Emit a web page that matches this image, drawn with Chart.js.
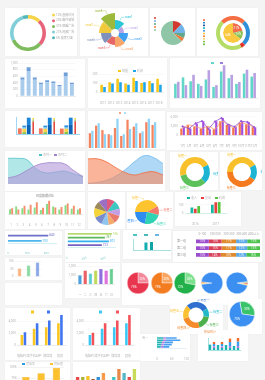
<!DOCTYPE html>
<html>
<head>
<meta charset="utf-8">
<title>图表集合</title>
<script src="https://cdn.jsdelivr.net/npm/chart.js@4.4.1/dist/chart.umd.min.js"></script>
<style>
  html, body { margin: 0; padding: 0; }
  body { position: relative; width: 265px; height: 380px; overflow: hidden; background: #f4f4f4; }
  .card { position: absolute; background: #fff; box-shadow: 0 0 1px rgba(0,0,0,0.06); }
  canvas { position: absolute; }
</style>
</head>
<body>
<script>
// ---------- data ----------
// row 1
const usageLabels = ['直接访问', '邮件营销', '联盟广告', '视频广告', '搜索引擎'];
const usageValues = [12, 25, 31, 27, 5];
const roseLabels = ['rose1', 'rose2', 'rose3', 'rose4', 'rose5', 'rose6', 'rose7', 'rose8'];
const roseValues = [13, 9, 13, 14, 12, 14, 16, 20];
const sourceLabels = ['直接访问', '邮件营销', '联盟广告', '视频广告', '搜索引擎'];
const sourceValues = [12, 13, 7, 5, 63];
const nestOuterLabels = ['百度', '谷歌', '必应', '其他'];
const nestOuterValues = [25, 25, 4, 46];
const nestInnerLabels = ['直达', '营销广告', '搜索引擎'];
const nestInnerValues = [21, 15, 64];
const nestLegendLabels = ['直达', '营销广告', '搜索引擎', '邮件营销', '联盟广告', '视频广告', '百度', '谷歌', '必应', '其他'];

// row 2
const trafficLabels = ['1', '2', '3', '4', '5', '6', '7', '8', '9'];
const trafficBase = [490, 760, 490, 360, 420, 385, 290, 605, 350];
const trafficTop = [70, 110, 70, 40, 60, 55, 40, 110, 50];
const yearLabels = ['2011', '2012', '2013', '2014', '2015', '2016', '2017', '2018'];
const yellowSeries = [82, 110, 149, 97, 159, 103, 123, 149];
const blueSeries = [59, 97, 110, 82, 123, 110, 100, 82];
const month11Labels = ['1月', '2月', '3月', '4月', '5月', '6月', '7月', '8月', '9月', '10月', '11月'];
const mintSeries = [55, 80, 65, 55, 72, 43, 103, 77, 55, 95, 83];
const lavenderSeries = [63, 50, 90, 47, 108, 50, 127, 90, 62, 110, 97];

// row 3
const stackCats = ['一', '二', '三'];
const stackOrange = [25, 25, 24];
const stackGreen = [8, 8, 9];
const stackYellow = [15, 15, 14];
const stackSky = [8, 8, 8];
const stackBlue = [6, 6, 7];
const stackNavy = [40, 40, 40];
const stackAzure = [32, 32, 32];
const stackRed = [55, 55, 56];
const stackLime = [9, 9, 8];
const stackGold = [7, 7, 7];
const pairLabels = ['1', '2', '3', '4', '5', '6', '7', '8', '9', '10', '11'];
const salmonSeries = [43, 65, 52, 40, 58, 35, 82, 62, 43, 75, 67];
const skySeries = [50, 72, 40, 37, 85, 40, 55, 72, 48, 85, 75];
const comboLabels = ['1月', '2月', '3月', '4月', '5月', '6月', '7月', '8月', '9月', '10月', '11月', '12月'];
const comboOrangeBars = [2240, 3470, 2750, 2240, 2890, 2020, 4550, 3320, 2390, 4050, 3610, 2600];
const comboPurpleBars = [2750, 2240, 3830, 4550, 2020, 4550, 5640, 3610, 2750, 4550, 4340, 2600];
const comboOrangeLine = [2400, 3300, 2800, 2300, 2900, 2100, 4500, 3400, 2500, 4000, 3500, 2700];
const comboPurpleLine = [2900, 2200, 3900, 4600, 2100, 4500, 5600, 3500, 2800, 4600, 4300, 2700];

// row 4
const waveLabels = ['1', '2', '3', '4', '5', '6', '7', '8', '9'];
const tealWave = [76, 76, 72, 45, 33, 35, 38, 30, 22];
const purpleWave = [18, 25, 40, 55, 62, 63, 60, 40, 22];
const orangeWave = [78, 78, 68, 50, 35, 28, 35, 38, 28];
const skyWave = [2, 5, 12, 25, 45, 70, 88, 82, 63];
const ringALabels = ['标签一', '标签二', '标签三'];
const ringAValues = [46, 21, 33];
const ringBLabels = ['标签一', '标签二', '标签三'];
const ringBValues = [42, 17, 41];

// row 5
const duoLabels = ['1', '2', '3', '4', '5', '6', '7', '8', '9', '10', '11', '12'];
const greenBars = [30, 45, 35, 28, 40, 25, 60, 45, 28, 52, 32, 28];
const orangeBars = [35, 28, 50, 55, 70, 38, 78, 40, 42, 62, 50, 35];
const tenLabels = ['A', 'B', 'C', 'D', 'E', 'F', 'G', 'H', 'I', 'J'];
const tenValues = [10, 11, 9, 10, 8, 9, 11, 12, 9, 11];
const quadLabels = ['标签一', '标签二', '标签三', '标签四'];
const quadValues = [42, 12, 24, 22];
const triLabels = ['2016', '2017'];
const triTeal = [106, 153];
const triRed = [82, 196];
const triGreen = [130, 198];

// row 6
const hbarLabels = ['A', 'B'];
const hbarValues = [840, 700];
const hbar4Labels = ['A', 'B', 'C', 'D'];
const hbar4Values = [936, 787, 872, 723];
const tealPairLabels = ['2017'];
const tealPairA = [68];
const tealPairB = [73];
const tealPairC = [0];
const rowLabels = ['第一组', '第二组', '第三组'];
const segLabels = ['0-100', '100-200', '200-300', '300-400', '400以上'];
const segValues = [[15, 15, 17, 13, 15], [15, 15, 17, 13, 15], [15, 14, 18, 12, 16]];

// row 7
const triBarLabels = ['A', 'B', 'C'];
const triBarValues = [53, 73, 93];
const rainbowLabels = ['一', '二', '三', '四', '五', '六', '日'];
const rainbowValues = [1000, 1530, 1210, 1530, 1710, 1530, 1710];
const smallPieLabels = ['已完成', '未完成'];
const smallPieA = [25, 75];
const smallPieB = [25, 75];
const smallPieC = [28, 72];
const slimPieLabels = ['一', '二', '其他'];
const slimPieD = [2, 2, 96];
const slimPieE = [2, 2, 2, 94];

// row 8
const deviceLabels = ['电脑PC端', '手机APP', '微信端', '其他'];
const deviceYellow = [1730, 2730, 3000, 3640];
const deviceBlue = [2180, 3640, 4090, 5000];
const deviceCyan = [1730, 2730, 3000, 3640];
const deviceRed = [2090, 3640, 4090, 5000];
const ringCLabels = ['标签一', '标签二', '标签三', '标签四', '标签五'];
const ringCValues = [29, 11, 18, 25, 17];
const pieBLabels = ['标签一', '标签二'];
const pieBValues = [30, 70];
const weekLabels = ['周一', '周二', '周三', '周四', '周五'];
const weekTeal = [25, 25, 20, 17, 15];
const weekPurple = [10, 12, 10, 10, 10];
const weekBlue = [45, 58, 35, 33, 25];
const colLabels = ['1', '2', '3', '4', '5', '6', '7', '8'];
const colTeal = [27, 10, 25, 10, 25, 10, 20, 10];
const colPurple = [0, 8, 0, 8, 0, 10, 0, 10];
const colBlue = [0, 12, 0, 12, 0, 20, 0, 22];
const colOrange = [0, 10, 0, 10, 0, 17, 0, 18];

// row 9
const rateLabels = ['A', 'B', 'C'];
const rateValues = [77, 86, 98];
const multiLabels = ['1', '2', '3', '4', '5', '6', '7', '8', '9', '10', '11', '12'];
const multiValues = [21, 21, 22, 19, 21, 25, 14, 21, 29, 25, 21, 29];

// ---------- chart setup ----------
Chart.defaults.animation = false;
Chart.defaults.responsive = false;
Chart.defaults.maintainAspectRatio = false;
Chart.defaults.devicePixelRatio = 1;
Chart.defaults.font.family = 'Roboto, "Noto Sans CJK SC", sans-serif';
Chart.defaults.font.size = 3;
Chart.defaults.color = '#b5b5b5';
Chart.defaults.plugins.legend.display = false;
Chart.defaults.plugins.tooltip.enabled = false;
Chart.defaults.elements.point.radius = 0;
Chart.defaults.elements.arc.borderWidth = 0;

const FONT = 'px Roboto, "Noto Sans CJK SC", sans-serif';

// small legend of boxes / dots with text, drawn in the canvas
const boxLegend = {
    id: 'boxLegend',
    afterDraw(chart, args, o) {
        if (!o.items) return;
        const ctx = chart.ctx;
        const bw = o.bw || 3, bh = o.bh || 2;
        ctx.save();
        ctx.font = (o.size || 3) + FONT;
        ctx.textBaseline = 'middle';
        ctx.textAlign = 'left';
        o.items.forEach((it, i) => {
            const x = o.x + (o.dx || 0) * i, y = o.y + (o.dy || 0) * i;
            let tx = x;
            if (it[1]) {
                ctx.fillStyle = it[1];
                if (o.round) {
                    ctx.beginPath();
                    ctx.arc(x + bw / 2, y, bw / 2, 0, Math.PI * 2);
                    ctx.fill();
                } else {
                    ctx.fillRect(x, y - bh / 2, bw, bh);
                }
                tx = x + bw + 1;
            }
            ctx.fillStyle = o.color || '#b5b5b5';
            ctx.fillText(it[0], tx, y);
        });
        ctx.restore();
    }
};

// labels outside the slices with a leader line
const outLabels = {
    id: 'outLabels',
    afterDatasetsDraw(chart, args, o) {
        if (!o.show) return;
        const ctx = chart.ctx;
        const ds = chart.data.datasets[0];
        ctx.save();
        ctx.font = '3' + FONT;
        ctx.textBaseline = 'middle';
        ctx.lineWidth = 0.4;
        chart.getDatasetMeta(0).data.forEach((arc, i) => {
            const p = arc.getProps(['x', 'y', 'startAngle', 'endAngle', 'outerRadius']);
            const a = (p.startAngle + p.endAngle) / 2;
            const c = Math.cos(a), s = Math.sin(a);
            const col = ds.backgroundColor[i];
            const r2 = p.outerRadius + (o.len || 4);
            const x2 = p.x + c * r2, y2 = p.y + s * r2;
            const right = c >= 0;
            const x3 = x2 + (right ? 1 : -1) * (o.hook || 0);
            if (o.line !== false) {
                ctx.strokeStyle = col;
                ctx.beginPath();
                ctx.moveTo(p.x + c * (p.outerRadius + 0.5), p.y + s * (p.outerRadius + 0.5));
                ctx.lineTo(x2, y2);
                ctx.lineTo(x3, y2);
                ctx.stroke();
            }
            ctx.fillStyle = col;
            ctx.textAlign = right ? 'left' : 'right';
            ctx.fillText(chart.data.labels[i], x3 + (right ? 0.5 : -0.5), y2);
        });
        ctx.restore();
    }
};

// white percentage text inside slices
const inText = {
    id: 'inText',
    afterDatasetsDraw(chart, args, o) {
        if (!o.show) return;
        const di = o.dataset || 0;
        const ds = chart.data.datasets[di];
        const ctx = chart.ctx;
        const total = ds.data.reduce((a, b) => a + b, 0);
        ctx.save();
        ctx.font = '3' + FONT;
        ctx.fillStyle = '#fff';
        ctx.textAlign = 'center';
        ctx.textBaseline = 'middle';
        chart.getDatasetMeta(di).data.forEach((arc, i) => {
            if (ds.data[i] / total < 0.08) return;
            const p = arc.getProps(['x', 'y', 'startAngle', 'endAngle', 'outerRadius']);
            const a = (p.startAngle + p.endAngle) / 2;
            const r = p.outerRadius * 0.55;
            ctx.fillText(Math.round(ds.data[i] / total * 100) + '%', p.x + Math.cos(a) * r, p.y + Math.sin(a) * r);
        });
        ctx.restore();
    }
};

// values on bars: at the end of horizontal bars, or inside stacked segments
const barText = {
    id: 'barText',
    afterDatasetsDraw(chart, args, o) {
        if (!o.mode) return;
        const ctx = chart.ctx;
        ctx.save();
        ctx.font = '3' + FONT;
        ctx.textBaseline = 'middle';
        chart.data.datasets.forEach((ds, di) => {
            chart.getDatasetMeta(di).data.forEach((bar, i) => {
                const v = ds.data[i];
                if (o.mode === 'end') {
                    ctx.fillStyle = Array.isArray(ds.backgroundColor) ? ds.backgroundColor[i] : ds.backgroundColor;
                    ctx.textAlign = 'left';
                    ctx.fillText(String(v), bar.x + 1, bar.y);
                } else {
                    const cx = (bar.x + bar.base) / 2;
                    ctx.fillStyle = 'rgba(255,255,255,0.85)';
                    ctx.textAlign = 'center';
                    ctx.fillText(v + '%', cx, bar.y);
                    if (i === 0 && o.headY) {
                        ctx.fillStyle = '#aaa';
                        ctx.fillText(ds.label, cx, o.headY);
                    }
                }
            });
        });
        ctx.restore();
    }
};

// white hole in the middle of the rose chart
const holePlugin = {
    id: 'hole',
    afterDatasetsDraw(chart, args, o) {
        if (!o.r) return;
        const s = chart.scales.r;
        const ctx = chart.ctx;
        ctx.save();
        ctx.fillStyle = '#fff';
        ctx.beginPath();
        ctx.arc(s.xCenter, s.yCenter, o.r, 0, Math.PI * 2);
        ctx.fill();
        ctx.restore();
    }
};

Chart.register(boxLegend, outLabels, inText, barText, holePlugin);

function card(x, y, w, h) {
    const el = document.createElement('div');
    el.className = 'card';
    el.style.left = x + 'px';
    el.style.top = y + 'px';
    el.style.width = w + 'px';
    el.style.height = h + 'px';
    document.body.appendChild(el);
}

function chartAt(x, y, w, h, config) {
    const cv = document.createElement('canvas');
    cv.width = w;
    cv.height = h;
    cv.style.left = x + 'px';
    cv.style.top = y + 'px';
    cv.style.width = w + 'px';
    cv.style.height = h + 'px';
    document.body.appendChild(cv);
    return new Chart(cv, config);
}

function panel(x, y, w, h, config) {
    card(x, y, w, h);
    return chartAt(x, y, w, h, config);
}

// padding that puts a pie of radius r at (cx, cy) inside a w x h canvas
function ring(w, h, cx, cy, r) {
    return { left: cx - r, right: w - cx - r, top: cy - r, bottom: h - cy - r };
}

function xCat(extra) {
    return Object.assign({
        grid: { display: false },
        border: { color: '#dddddd', width: 0.5 },
        ticks: { padding: 1, maxRotation: 0, autoSkip: false }
    }, extra || {});
}

function yVal(min, max, step, extra) {
    return Object.assign({
        min: min, max: max,
        grid: { color: '#f1f1f1', lineWidth: 0.5, drawTicks: false },
        border: { display: false },
        ticks: { stepSize: step, padding: 1.5 }
    }, extra || {});
}

// ---------- row 1 ----------
const C_USAGE = ['#f6d44a', '#e6637a', '#7dbb5d', '#80cfd8', '#55b6b9'];
panel(5, 8, 72, 48, {
    type: 'doughnut',
    data: { labels: usageLabels, datasets: [{ data: usageValues, backgroundColor: C_USAGE }] },
    options: {
        cutout: '80%',
        layout: { padding: ring(72, 48, 23, 25, 18) },
        plugins: {
            boxLegend: {
                x: 47, y: 7, dy: 5.7, round: true, color: '#aaa',
                items: usageLabels.map((l, i) => [usageValues[i] + '% ' + l, C_USAGE[i]])
            }
        }
    }
});

const C_ROSE = ['#2cc6d6', '#b9a2e6', '#3f9ff0', '#f8a66a', '#e66767', '#7f90bb', '#f0c93c', '#9db93c'];
panel(80, 8, 68, 48, {
    type: 'polarArea',
    data: { labels: roseLabels, datasets: [{ data: roseValues, backgroundColor: C_ROSE }] },
    options: {
        layout: { padding: ring(68, 48, 35, 25, 20) },
        scales: { r: { display: false, min: 0, max: 20 } },
        plugins: { outLabels: { show: true, len: 4, hook: 3 }, hole: { r: 4 } }
    }
});

const C_SOURCE = ['#d23a2f', '#72b3ea', '#5fa88c', '#f07b3c', '#8fc6a7'];
panel(150, 8, 45, 48, {
    type: 'pie',
    data: { labels: sourceLabels, datasets: [{ data: sourceValues, backgroundColor: C_SOURCE }] },
    options: {
        layout: { padding: ring(45, 48, 23, 25, 12) },
        plugins: { boxLegend: { x: 4, y: 10, dy: 3, bw: 2, bh: 1.5, items: sourceLabels.map((l, i) => ['', C_SOURCE[i]]) } }
    }
});

const C_NEST_OUT = ['#f46d43', '#2f8fd8', '#e5332a', '#b6dc68'];
const C_NEST_IN = ['#f36c4c', '#8cc152', '#fbc93f'];
const C_NEST_LEGEND = ['#f46d43', '#2f8fd8', '#1c4fa0', '#18b7c6', '#3fa0e8', '#f6c343', '#f48a3c', '#f3d36b', '#8cc152', '#6fbf40'];
panel(197, 8, 61, 48, {
    type: 'doughnut',
    data: {
        labels: nestOuterLabels,
        datasets: [
            { data: nestOuterValues, backgroundColor: C_NEST_OUT, weight: 4, rotation: -45 },
            { data: [1], backgroundColor: ['#ffffff'], weight: 3 },
            { data: nestInnerValues, backgroundColor: C_NEST_IN, weight: 10 }
        ]
    },
    options: {
        cutout: 0,
        layout: { padding: ring(61, 48, 36, 25, 17) },
        plugins: {
            inText: { show: true, dataset: 2 },
            boxLegend: { x: 6, y: 12, dy: 2.7, bw: 2, bh: 1.6, items: nestLegendLabels.map((l, i) => ['', C_NEST_LEGEND[i]]) }
        }
    }
});

// ---------- row 2 ----------
panel(5, 59, 80, 49, {
    type: 'bar',
    data: {
        labels: trafficLabels,
        datasets: [
            { data: trafficBase, backgroundColor: '#a9cbec' },
            { data: trafficTop, backgroundColor: '#6f9fd6' }
        ]
    },
    options: {
        layout: { padding: { left: 4, right: 10, top: 4, bottom: 4 } },
        datasets: { bar: { barPercentage: 0.7, categoryPercentage: 0.9 } },
        scales: {
            x: xCat({ stacked: true, ticks: { display: false } }),
            y: yVal(0, 1000, 200, { stacked: true })
        }
    }
});

panel(88, 58, 79, 50, {
    type: 'bar',
    data: {
        labels: yearLabels,
        datasets: [
            { data: yellowSeries, backgroundColor: '#f8c81c' },
            { data: blueSeries, backgroundColor: '#1ea5ea' }
        ]
    },
    options: {
        layout: { padding: { left: 3, right: 4, top: 16, bottom: 2 } },
        datasets: { bar: { categoryPercentage: 0.72, barPercentage: 0.9 } },
        plugins: { boxLegend: { x: 30, y: 13, dx: 15, items: [['销量', '#f8c81c'], ['利润', '#1ea5ea']] } },
        scales: { x: xCat(), y: yVal(0, 200, 50) }
    }
});

panel(170, 58, 90, 50, {
    type: 'bar',
    data: {
        labels: month11Labels,
        datasets: [
            { data: mintSeries, backgroundColor: '#62d6c9' },
            { data: lavenderSeries, backgroundColor: '#b9a0e0' }
        ]
    },
    options: {
        layout: { padding: { left: 3, right: 3, top: 6, bottom: 2 } },
        datasets: { bar: { categoryPercentage: 0.75, barPercentage: 0.9 } },
        plugins: { boxLegend: { x: 41, y: 5, dx: 9, items: [['', '#62d6c9'], ['', '#9c7fd8']] } },
        scales: { x: xCat({ ticks: { display: false } }), y: { display: false, min: 0, max: 132 } }
    }
});

// ---------- row 3 ----------
panel(5, 111, 80, 36, {
    type: 'bar',
    data: {
        labels: stackCats,
        datasets: [
            { data: stackOrange, backgroundColor: '#f27a5c', stack: 'a' },
            { data: stackGreen, backgroundColor: '#8bc34a', stack: 'b' },
            { data: stackYellow, backgroundColor: '#f9d24a', stack: 'b' },
            { data: stackSky, backgroundColor: '#7ec8f0', stack: 'b' },
            { data: stackBlue, backgroundColor: '#2e8fe0', stack: 'b' },
            { data: stackNavy, backgroundColor: '#0d62b5', stack: 'c' },
            { data: stackAzure, backgroundColor: '#1d86d8', stack: 'c' },
            { data: stackRed, backgroundColor: '#e0473b', stack: 'd', barPercentage: 0.35 },
            { data: stackLime, backgroundColor: '#9ccc65', stack: 'd', barPercentage: 0.35 },
            { data: stackGold, backgroundColor: '#fdd835', stack: 'd', barPercentage: 0.35 }
        ]
    },
    options: {
        layout: { padding: { left: 3, right: 6, top: 6, bottom: 5 } },
        datasets: { bar: { categoryPercentage: 0.85, barPercentage: 0.85 } },
        scales: {
            x: { stacked: true, grid: { display: false }, ticks: { display: false }, border: { color: '#9fd6f2' } },
            y: { stacked: true, min: 0, max: 75, grid: { display: false }, ticks: { display: false }, border: { color: '#9fd6f2' } }
        }
    }
});

panel(88, 111, 77, 38, {
    type: 'bar',
    data: {
        labels: pairLabels,
        datasets: [
            { data: salmonSeries, backgroundColor: '#f4845f' },
            { data: skySeries, backgroundColor: '#8fd4f7' }
        ]
    },
    options: {
        layout: { padding: { left: 0, right: 8, top: 6, bottom: 1 } },
        datasets: { bar: { categoryPercentage: 0.8, barPercentage: 0.9 } },
        plugins: { boxLegend: { x: 31, y: 2, dx: 5, bw: 2, bh: 1.5, items: [['', '#f4845f'], ['', '#8fd4f7']] } },
        scales: { x: { display: false }, y: { display: false, min: 0, max: 90 } }
    }
});

panel(167, 112, 95, 38, {
    type: 'bar',
    data: {
        labels: comboLabels,
        datasets: [
            { type: 'line', data: comboPurpleLine, borderColor: '#9b4fd6', borderWidth: 0.8, pointRadius: 0.7, pointBackgroundColor: '#9b4fd6', tension: 0 },
            { type: 'line', data: comboOrangeLine, borderColor: '#f7a06a', borderWidth: 0.8, tension: 0.4 },
            { data: comboOrangeBars, backgroundColor: '#f5734b' },
            { data: comboPurpleBars, backgroundColor: '#a24fe0' }
        ]
    },
    options: {
        layout: { padding: { left: 2, right: 2, top: 3, bottom: 1 } },
        datasets: { bar: { categoryPercentage: 0.75, barPercentage: 0.9 } },
        scales: { x: xCat(), y: yVal(0, 6000, 1000) }
    }
});

// ---------- row 4 ----------
panel(5, 151, 80, 40, {
    type: 'line',
    data: {
        labels: waveLabels,
        datasets: [
            { data: purpleWave, borderColor: '#a083cc', backgroundColor: 'rgba(178,150,216,0.6)', fill: 'origin', borderWidth: 0.8, tension: 0.45 },
            { data: tealWave, borderColor: '#4cc3c9', backgroundColor: 'rgba(125,215,215,0.6)', fill: 'origin', borderWidth: 0.8, tension: 0.45 }
        ]
    },
    options: {
        layout: { padding: { left: 3, right: 2, top: 6, bottom: 7 } },
        plugins: { boxLegend: { x: 34, y: 4, dx: 15, items: [['系列一', '#4cc3c9'], ['系列二', '#a083cc']] } },
        scales: { x: { display: false }, y: { display: false, min: 0, max: 80 } }
    }
});

panel(88, 151, 77, 40, {
    type: 'line',
    data: {
        labels: waveLabels,
        datasets: [
            { data: orangeWave, borderColor: '#f06a3a', backgroundColor: 'rgba(246,140,100,0.65)', fill: 'origin', borderWidth: 0.8, tension: 0.45 },
            { data: skyWave, borderColor: '#6fb7ec', backgroundColor: 'rgba(140,200,242,0.7)', fill: 'origin', borderWidth: 0.8, tension: 0.45 }
        ]
    },
    options: {
        layout: { padding: { left: 0, right: 2, top: 4, bottom: 7 } },
        scales: { x: { display: false }, y: { display: false, min: 0, max: 90 } }
    }
});

const C_RING_A = ['#f8c12c', '#1db4d3', '#5cc15a'];
panel(170, 152, 48, 38, {
    type: 'doughnut',
    data: { labels: ringALabels, datasets: [{ data: ringAValues, backgroundColor: C_RING_A }] },
    options: {
        cutout: '60%', rotation: -105,
        layout: { padding: ring(48, 38, 25, 20, 15) },
        plugins: { outLabels: { show: true, len: 2, hook: 1, line: false } }
    }
});

const C_RING_B = ['#f8c12c', '#1db4d3', '#f47b20'];
panel(220, 152, 42, 38, {
    type: 'doughnut',
    data: { labels: ringBLabels, datasets: [{ data: ringBValues, backgroundColor: C_RING_B }] },
    options: {
        cutout: '60%', rotation: -90,
        layout: { padding: ring(42, 38, 22, 20, 15) },
        plugins: { outLabels: { show: true, len: 2, hook: 1, line: false } }
    }
});

// ---------- row 5 ----------
panel(5, 192, 80, 37, {
    type: 'bar',
    data: {
        labels: duoLabels,
        datasets: [
            { data: greenBars, backgroundColor: '#86dd84' },
            { data: orangeBars, backgroundColor: '#f68f6e' }
        ]
    },
    options: {
        layout: { padding: { left: 3, right: 3, top: 1, bottom: 1 } },
        datasets: { bar: { categoryPercentage: 0.7, barPercentage: 0.9 } },
        plugins: { title: { display: true, text: '月度数据对比', font: { size: 3 }, color: '#aaa', padding: { top: 1, bottom: 2 } } },
        scales: { x: xCat({ border: { color: '#cccccc', width: 0.5 } }), y: { display: false, min: 0, max: 85 } }
    }
});

const C_TEN = ['#e05a7a', '#3cc7c0', '#c3a0e6', '#e97a6e', '#f3a96a', '#8ec5ef', '#7a8ccc', '#f5d43a', '#9c8a5a', '#9b70c4'];
panel(88, 192, 37, 37, {
    type: 'pie',
    data: { labels: tenLabels, datasets: [{ data: tenValues, backgroundColor: C_TEN }] },
    options: { layout: { padding: ring(37, 37, 19, 20, 13) } }
});

const C_QUAD = ['#fdc42f', '#f4776b', '#2fd3b3', '#2e8ef0'];
panel(127, 192, 46, 37, {
    type: 'pie',
    data: { labels: quadLabels, datasets: [{ data: quadValues, backgroundColor: C_QUAD }] },
    options: {
        rotation: -90,
        layout: { padding: ring(46, 37, 20, 20, 12) },
        plugins: { outLabels: { show: true, len: 2, hook: 2 } }
    }
});

panel(175, 192, 66, 34, {
    type: 'bar',
    data: {
        labels: triLabels,
        datasets: [
            { data: triTeal, backgroundColor: '#19b5a5' },
            { data: triRed, backgroundColor: '#e8403f' },
            { data: triGreen, backgroundColor: '#55c33e' }
        ]
    },
    options: {
        layout: { padding: { left: 2, right: 15, top: 10, bottom: 1 } },
        datasets: { bar: { categoryPercentage: 0.5, barPercentage: 0.8 } },
        plugins: { boxLegend: { x: 12, y: 6, dx: 14, items: [['收入', '#19b5a5'], ['支出', '#e8403f'], ['利润', '#55c33e']] } },
        scales: { x: xCat({ border: { color: '#a8e6cf', width: 0.5 } }), y: yVal(0, 200, 50) }
    }
});

// ---------- row 6 ----------
panel(5, 231, 57, 24, {
    type: 'bar',
    data: { labels: hbarLabels, datasets: [{ data: hbarValues, backgroundColor: ['#6c70c9', '#4db6ec'], barPercentage: 0.35, categoryPercentage: 1 }] },
    options: {
        indexAxis: 'y',
        layout: { padding: { left: 3, right: 6, top: 2, bottom: 1 } },
        plugins: { barText: { mode: 'end' } },
        scales: {
            x: { min: 0, max: 1000, grid: { display: false }, border: { color: '#a8e0e0', width: 0.5 }, ticks: { stepSize: 200, padding: 1, color: '#8cc' } },
            y: { display: false }
        }
    }
});

panel(65, 230, 55, 32, {
    type: 'bar',
    data: { labels: hbar4Labels, datasets: [{ data: hbar4Values, backgroundColor: ['#b7db74', '#5cb85c', '#33b0ee', '#7460c0'], barPercentage: 0.5, categoryPercentage: 1 }] },
    options: {
        indexAxis: 'y',
        layout: { padding: { left: 2, right: 5, top: 2, bottom: 0 } },
        plugins: { barText: { mode: 'end' } },
        scales: {
            x: { min: 0, max: 1000, grid: { display: false }, border: { color: '#a8e0e0', width: 0.5 }, ticks: { stepSize: 200, padding: 1, color: '#8cc' } },
            y: { display: false }
        }
    }
});

panel(123, 230, 48, 29, {
    type: 'bar',
    data: {
        labels: tealPairLabels,
        datasets: [
            { data: tealPairA, backgroundColor: '#17aeb0' },
            { data: tealPairB, backgroundColor: '#0fa3a6' },
            { data: tealPairC, backgroundColor: '#3aa0e0' }
        ]
    },
    options: {
        layout: { padding: { left: 2, right: 1, top: 9, bottom: 1 } },
        datasets: { bar: { categoryPercentage: 0.45, barPercentage: 0.55 } },
        plugins: { boxLegend: { x: 10, y: 5, dx: 11, bw: 4, bh: 1.5, items: [['', '#17aeb0'], ['', '#0fa3a6'], ['', '#3aa0e0']] } },
        scales: {
            x: { grid: { display: false }, ticks: { display: false }, border: { color: '#a8e0e0' } },
            y: { min: 0, max: 100, grid: { display: false }, ticks: { display: false }, border: { color: '#a8e0e0' } }
        }
    }
});

const C_SEG = ['#9c4dcc', '#d9435a', '#e08a2e', '#5aa9e6', '#4cc24c'];
panel(173, 231, 89, 31, {
    type: 'bar',
    data: {
        labels: rowLabels,
        datasets: segLabels.map((l, k) => ({ label: l, data: segValues.map(r => r[k]), backgroundColor: C_SEG[k] }))
    },
    options: {
        indexAxis: 'y',
        layout: { padding: { left: 2, right: 2, top: 7, bottom: 0 } },
        datasets: { bar: { categoryPercentage: 1, barPercentage: 0.58 } },
        plugins: { barText: { mode: 'inside', headY: 3 } },
        scales: {
            x: { stacked: true, display: false, min: 0, max: 75 },
            y: { stacked: true, grid: { display: false }, border: { display: false }, ticks: { padding: 2, color: '#999' } }
        }
    }
});

// ---------- row 7 ----------
panel(5, 258, 57, 22, {
    type: 'bar',
    data: {
        labels: triBarLabels,
        datasets: [{
            data: triBarValues,
            backgroundColor: ['rgba(249,160,100,0.8)', 'rgba(110,210,140,0.8)', 'rgba(110,145,225,0.8)'],
            borderColor: ['#f59a5b', '#5ec98a', '#5f86dc'], borderWidth: 0.5, barPercentage: 0.5
        }]
    },
    options: {
        layout: { padding: { left: 2, right: 20, top: 3, bottom: 3 } },
        scales: { x: { display: false }, y: yVal(0, 100, 25) }
    }
});

card(5, 283, 57, 22);

panel(65, 263, 55, 35, {
    type: 'bar',
    data: {
        labels: rainbowLabels,
        datasets: [{
            data: rainbowValues,
            backgroundColor: ['rgba(46,143,214,0.85)', 'rgba(232,71,75,0.85)', 'rgba(63,197,199,0.85)', 'rgba(180,209,58,0.85)', 'rgba(123,85,217,0.85)', 'rgba(216,91,216,0.85)', 'rgba(76,197,124,0.85)'],
            borderColor: ['#2e8fd6', '#e8474b', '#3fc5c7', '#b4d13a', '#7b55d9', '#d85bd8', '#4cc57c'],
            borderWidth: 0.5, barPercentage: 0.75, categoryPercentage: 0.9
        }]
    },
    options: {
        layout: { padding: { left: 2, right: 6, top: 3, bottom: 0 } },
        scales: { x: xCat(), y: yVal(0, 2000, 500) }
    }
});

card(122, 263, 136, 42);
const pieSpecs = [
    [138, smallPieA, ['#f3889a', '#e8364f'], 0, smallPieLabels],
    [162, smallPieB, ['#f9a560', '#f47c20'], 0, smallPieLabels],
    [185, smallPieC, ['#7de08c', '#22b04a'], 0, smallPieLabels],
    [212, slimPieD, ['#f7c52b', '#f47b20', '#3c8ff0'], 262, slimPieLabels],
    [237, slimPieE, ['#4cc24c', '#e8403f', '#f7c52b', '#3b8ff0'], 82, ['一', '二', '三', '其他']]
];
pieSpecs.forEach(s => {
    chartAt(s[0] - 13, 270, 26, 26, {
        type: 'pie',
        data: { labels: s[4], datasets: [{ data: s[1], backgroundColor: s[2], borderColor: '#fff', borderWidth: 0.4 }] },
        options: { rotation: s[3], layout: { padding: 2 }, plugins: { inText: { show: s[3] === 0 } } }
    });
});

// ---------- row 8 ----------
panel(5, 308, 65, 52, {
    type: 'bar',
    data: {
        labels: deviceLabels,
        datasets: [
            { data: deviceYellow, backgroundColor: '#f9c623' },
            { data: deviceBlue, backgroundColor: '#4075f2' }
        ]
    },
    options: {
        layout: { padding: { left: 2, right: 4, top: 7, bottom: 1 } },
        datasets: { bar: { categoryPercentage: 0.5, barPercentage: 0.85 } },
        plugins: { boxLegend: { x: 26, y: 4, dx: 16, bw: 3, bh: 3, items: [['', '#f9c623'], ['', '#4075f2']] } },
        scales: { x: xCat(), y: yVal(0, 5000, 1000) }
    }
});

panel(73, 308, 67, 52, {
    type: 'bar',
    data: {
        labels: deviceLabels,
        datasets: [
            { data: deviceCyan, backgroundColor: '#3cc8f4' },
            { data: deviceRed, backgroundColor: '#f3525a' }
        ]
    },
    options: {
        layout: { padding: { left: 2, right: 6, top: 7, bottom: 1 } },
        datasets: { bar: { categoryPercentage: 0.5, barPercentage: 0.85 } },
        plugins: { boxLegend: { x: 26, y: 4, dx: 17, bw: 3, bh: 3, items: [['', '#3cc8f4'], ['', '#f3525a']] } },
        scales: { x: xCat(), y: yVal(0, 5000, 1000) }
    }
});

const C_RING_C = ['#2f6fcf', '#22b8c8', '#4cb04c', '#f68b2c', '#f9c032'];
panel(170, 299, 53, 35, {
    type: 'doughnut',
    data: { labels: ringCLabels, datasets: [{ data: ringCValues, backgroundColor: C_RING_C }] },
    options: {
        cutout: '58%', rotation: -45,
        layout: { padding: ring(53, 35, 26, 16, 13) },
        plugins: { outLabels: { show: true, len: 2, hook: 2 } }
    }
});

panel(228, 299, 34, 35, {
    type: 'pie',
    data: { labels: pieBLabels, datasets: [{ data: pieBValues, backgroundColor: ['#3ac46a', '#3a8ff0'], borderColor: '#fff', borderWidth: 0.5 }] },
    options: {
        rotation: -10,
        layout: { padding: ring(34, 35, 14, 15, 13) },
        plugins: { inText: { show: true } }
    }
});

panel(140, 334, 50, 27, {
    type: 'bar',
    data: {
        labels: weekLabels,
        datasets: [
            { data: weekTeal, backgroundColor: '#22b5b5' },
            { data: weekPurple, backgroundColor: '#b37ee0' },
            { data: weekBlue, backgroundColor: '#4a9ff0' }
        ]
    },
    options: {
        indexAxis: 'y',
        layout: { padding: { left: 1, right: 2, top: 2, bottom: 1 } },
        datasets: { bar: { categoryPercentage: 1, barPercentage: 0.7 } },
        scales: {
            x: { stacked: true, min: 0, max: 120, grid: { display: false }, border: { color: '#cde', width: 0.5 }, ticks: { stepSize: 30, padding: 1 } },
            y: { stacked: true, grid: { display: false }, border: { display: false }, ticks: { padding: 1 } }
        }
    }
});

panel(198, 330, 50, 31, {
    type: 'bar',
    data: {
        labels: colLabels,
        datasets: [
            { data: colTeal, backgroundColor: '#1fb3b3' },
            { data: colPurple, backgroundColor: '#b07fe0' },
            { data: colBlue, backgroundColor: '#3a9ff0' },
            { data: colOrange, backgroundColor: '#f06a2a' }
        ]
    },
    options: {
        layout: { padding: { left: 2, right: 8, top: 8, bottom: 3 } },
        datasets: { bar: { categoryPercentage: 1, barPercentage: 0.6 } },
        plugins: { boxLegend: { x: 6, y: 2.5, color: '#f0a060', items: [['数据统计', null]] } },
        scales: {
            x: { stacked: true, grid: { display: false }, ticks: { display: false }, border: { color: '#a8e0e0' } },
            y: { stacked: true, min: 0, max: 60, grid: { display: false }, ticks: { display: false }, border: { color: '#a8e0e0' } }
        }
    }
});

// ---------- row 9 (cut off at the bottom) ----------
panel(5, 362, 65, 53, {
    type: 'bar',
    data: { labels: rateLabels, datasets: [{ data: rateValues, backgroundColor: '#fbc12e', borderColor: '#f4a300', borderWidth: 0.5, barPercentage: 0.6 }] },
    options: {
        layout: { padding: { left: 3, right: 6, top: 5, bottom: 4 } },
        plugins: { boxLegend: { x: 17, y: 2, dx: 28, items: [['完成率', '#2f9be8'], ['目标值', '#fbc12e']] } },
        scales: {
            x: { display: false },
            y: yVal(0, 100, 25, { ticks: { stepSize: 25, padding: 1.5, callback: v => v + '%' }, grid: { color: '#e6e6e6', lineWidth: 0.5, drawTicks: false } })
        }
    }
});

panel(73, 362, 67, 40, {
    type: 'bar',
    data: {
        labels: multiLabels,
        datasets: [{
            data: multiValues,
            backgroundColor: ['#e84a4a', '#a9b33b', '#f7c52b', '#a0522d', '#2e8fd6', '#f79a4a', '#c9c9c9', '#3ec6c6', '#e8874a', '#58b8c8', '#e84a4a', '#c8dc5a'],
            barPercentage: 0.65, categoryPercentage: 1
        }]
    },
    options: {
        layout: { padding: { left: 2, right: 3, top: 0, bottom: 4 } },
        scales: { x: { display: false }, y: { display: false, min: 0, max: 36 } }
    }
});
</script>
</body>
</html>
